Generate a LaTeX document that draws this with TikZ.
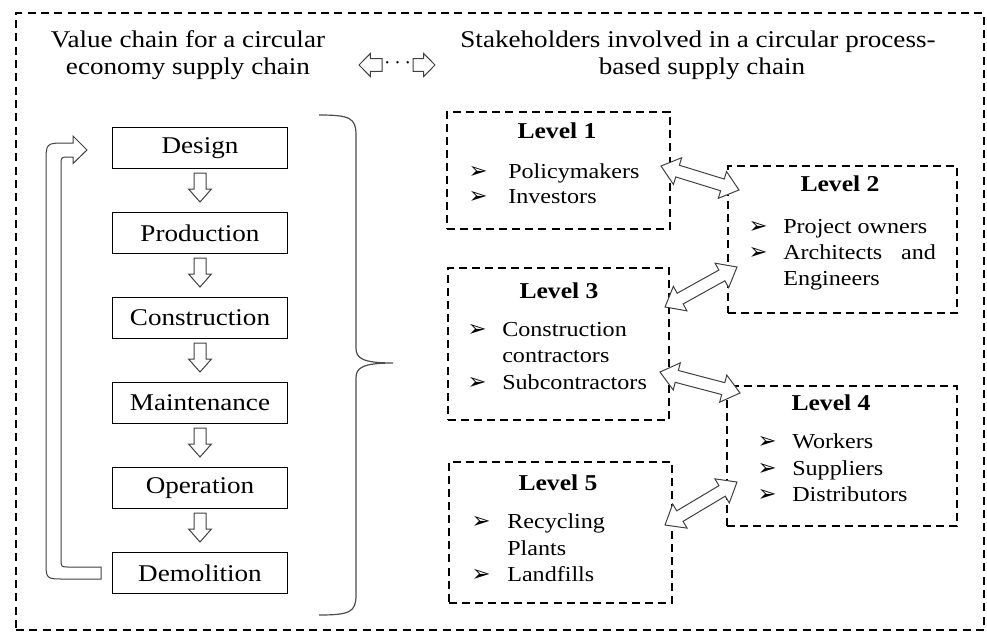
\documentclass[tikz,border=0pt]{standalone}
\usepackage{fontspec}
\setmainfont{Liberation Serif}[FakeStretch=1.13]
\newfontfamily\symfont{DejaVu Sans}
\usetikzlibrary{calc}
\newcommand\dblarr[2]{%
 \draw[hollowarr] (#1) -- ($(#1)!13pt!(#2)!10.5pt!90:(#2)$) -- ($(#1)!13pt!(#2)!4.6pt!90:(#2)$)
 -- ($(#2)!13pt!(#1)!4.6pt!-90:(#1)$) -- ($(#2)!13pt!(#1)!10.5pt!-90:(#1)$) -- (#2)
 -- ($(#2)!13pt!(#1)!10.5pt!90:(#1)$) -- ($(#2)!13pt!(#1)!4.6pt!90:(#1)$)
 -- ($(#1)!13pt!(#2)!4.6pt!-90:(#2)$) -- ($(#1)!13pt!(#2)!10.5pt!-90:(#2)$) -- cycle;}
\newcommand\sglarr[5]{% tail, tip, head length, head half width, shaft half width
 \draw[hollowarr] ($(#1)!#5!90:(#2)$) -- ($(#2)!#3!(#1)!#5!-90:(#1)$) -- ($(#2)!#3!(#1)!#4!-90:(#1)$)
 -- (#2) -- ($(#2)!#3!(#1)!#4!90:(#1)$) -- ($(#2)!#3!(#1)!#5!90:(#1)$) -- ($(#1)!#5!-90:(#2)$) -- cycle;}
\begin{document}
\begin{tikzpicture}[x=0.75pt,y=-0.75pt,
  every node/.style={font=\fontsize{18}{20}\selectfont, inner sep=0pt},
  frame/.style={draw, dash pattern=on 6pt off 4pt, line width=1.1pt, rectangle},
  lvl/.style={draw, dash pattern=on 6pt off 3.8pt, line width=1.3pt, rectangle},
  stage/.style={draw, line width=1.2pt, rectangle, minimum width=131.25pt, minimum height=30.75pt},
  hollowarr/.style={draw=black!75, line width=0.75pt, fill=white, line join=miter},
  bul/.style={anchor=mid, font=\symfont\fontsize{17}{17}\selectfont},
  item/.style={anchor=mid west, font=\fontsize{16}{20}\selectfont},
  ttl/.style={anchor=mid, font=\fontsize{17}{20}\selectfont\bfseries},
  hd/.style={anchor=mid}]
\useasboundingbox (0,0) rectangle (987,635);
% outer frame
\node[frame, minimum width=726pt, minimum height=462.75pt] (outer) at (500,321.5) {};
% titles
\node[hd] (t1a) at (188,44) {Value chain for a circular};
\node[hd] (t1b) at (188,71) {economy supply chain};
\node[hd] (t2a) at (698,44) {Stakeholders involved in a circular process-};
\node[hd] (t2b) at (702,71) {based supply chain};
% top symbol
\coordinate (sl1) at (382,65); \coordinate (sl2) at (359,65);
\coordinate (sr1) at (413,65); \coordinate (sr2) at (435,65);
\sglarr{sl1}{sl2}{8.5pt}{8.6pt}{4.8pt}
\sglarr{sr1}{sr2}{8.5pt}{8.6pt}{4.8pt}
\node[anchor=mid] (dots) at (397.5,65) {$\cdots$};
% stages
\node[stage] (s1) at (200,148) {Design};
\node[stage] (s2) at (200,233) {Production};
\node[stage] (s3) at (200,318) {Construction};
\node[stage] (s4) at (200,403) {Maintenance};
\node[stage] (s5) at (200,488) {Operation};
\node[stage] (s6) at (200,573) {Demolition};
\foreach \a/\b in {s1/s2,s2/s3,s3/s4,s4/s5,s5/s6}{
  \coordinate (\a t) at ($(\a.center)+(0,25)$);
  \coordinate (\a h) at ($(\a.center)+(0,54)$);
  \sglarr{\a t}{\a h}{9.75pt}{8.6pt}{4.5pt}
}
% loop arrow
\draw[hollowarr] (101,567) -- (69,567) .. controls (61,567) .. (61,559) -- (61,165)
  .. controls (61,157) .. (69,157) -- (73,157) -- (73,163.5) -- (87,150) -- (73,136) -- (73,143)
  -- (66,143) .. controls (46,143) .. (46,163) -- (46,561) .. controls (46,579) .. (64,579)
  -- (101,579) -- cycle;
% brace
\draw[black!70, line width=0.9pt] (319,115) .. controls (350,115) and (356,118) .. (356,135)
  -- (356,348) .. controls (356,358) and (362,363) .. (393,363)
  .. controls (362,363) and (356,368) .. (356,378) -- (356,595)
  .. controls (356,612) and (350,615) .. (319,615);
% level boxes
\node[lvl, minimum width=167.25pt, minimum height=87.75pt] (L1) at (558.5,170.5) {};
\node[lvl, minimum width=171.75pt, minimum height=110.25pt] (L2) at (842.5,239.5) {};
\node[lvl, minimum width=165.75pt, minimum height=114pt] (L3) at (558.5,344) {};
\node[lvl, minimum width=172.5pt, minimum height=105pt] (L4) at (842,456) {};
\node[lvl, minimum width=167.25pt, minimum height=105.75pt] (L5) at (560.5,532.5) {};
% level 1
\node[ttl] (l1t) at (557,135) {Level 1};
\node[bul] (b11) at (478,175) {➢};
\node[item] (i11) at (508,175) {Policymakers};
\node[bul] (b12) at (478,200) {➢};
\node[item] (i12) at (508,200) {Investors};
% level 2
\node[ttl] (l2t) at (840,188) {Level 2};
\node[bul] (b21) at (758,230) {➢};
\node[item] (i21) at (783,230) {Project owners};
\node[bul] (b22) at (758,256) {➢};
\node[item] (i22) at (783,256) {Architects\hspace{0.6em} and};
\node[item] (i23) at (783,282) {Engineers};
% level 3
\node[ttl] (l3t) at (559,295) {Level 3};
\node[bul] (b31) at (477,333) {➢};
\node[item] (i31) at (502,333) {Construction};
\node[item] (i32) at (502,359) {contractors};
\node[bul] (b32) at (477,386) {➢};
\node[item] (i33) at (502,386) {Subcontractors};
% level 4
\node[ttl] (l4t) at (831,407) {Level 4};
\node[bul] (b41) at (767,445) {➢};
\node[item] (i41) at (792,445) {Workers};
\node[bul] (b42) at (767,472) {➢};
\node[item] (i42) at (792,472) {Suppliers};
\node[bul] (b43) at (767,498) {➢};
\node[item] (i43) at (792,498) {Distributors};
% level 5
\node[ttl] (l5t) at (558,487) {Level 5};
\node[bul] (b51) at (481,525) {➢};
\node[item] (i51) at (507,525) {Recycling};
\node[item] (i52) at (507,552) {Plants};
\node[bul] (b52) at (481,578) {➢};
\node[item] (i53) at (507,578) {Landfills};
% double arrows
\coordinate (a1) at (661,166); \coordinate (a2) at (739,190);
\coordinate (a3) at (665,307); \coordinate (a4) at (737,267);
\coordinate (a5) at (660,372); \coordinate (a6) at (740,393);
\coordinate (a7) at (665,525); \coordinate (a8) at (737,482);
\dblarr{a1}{a2}
\dblarr{a3}{a4}
\dblarr{a5}{a6}
\dblarr{a7}{a8}
\end{tikzpicture}
\end{document}
